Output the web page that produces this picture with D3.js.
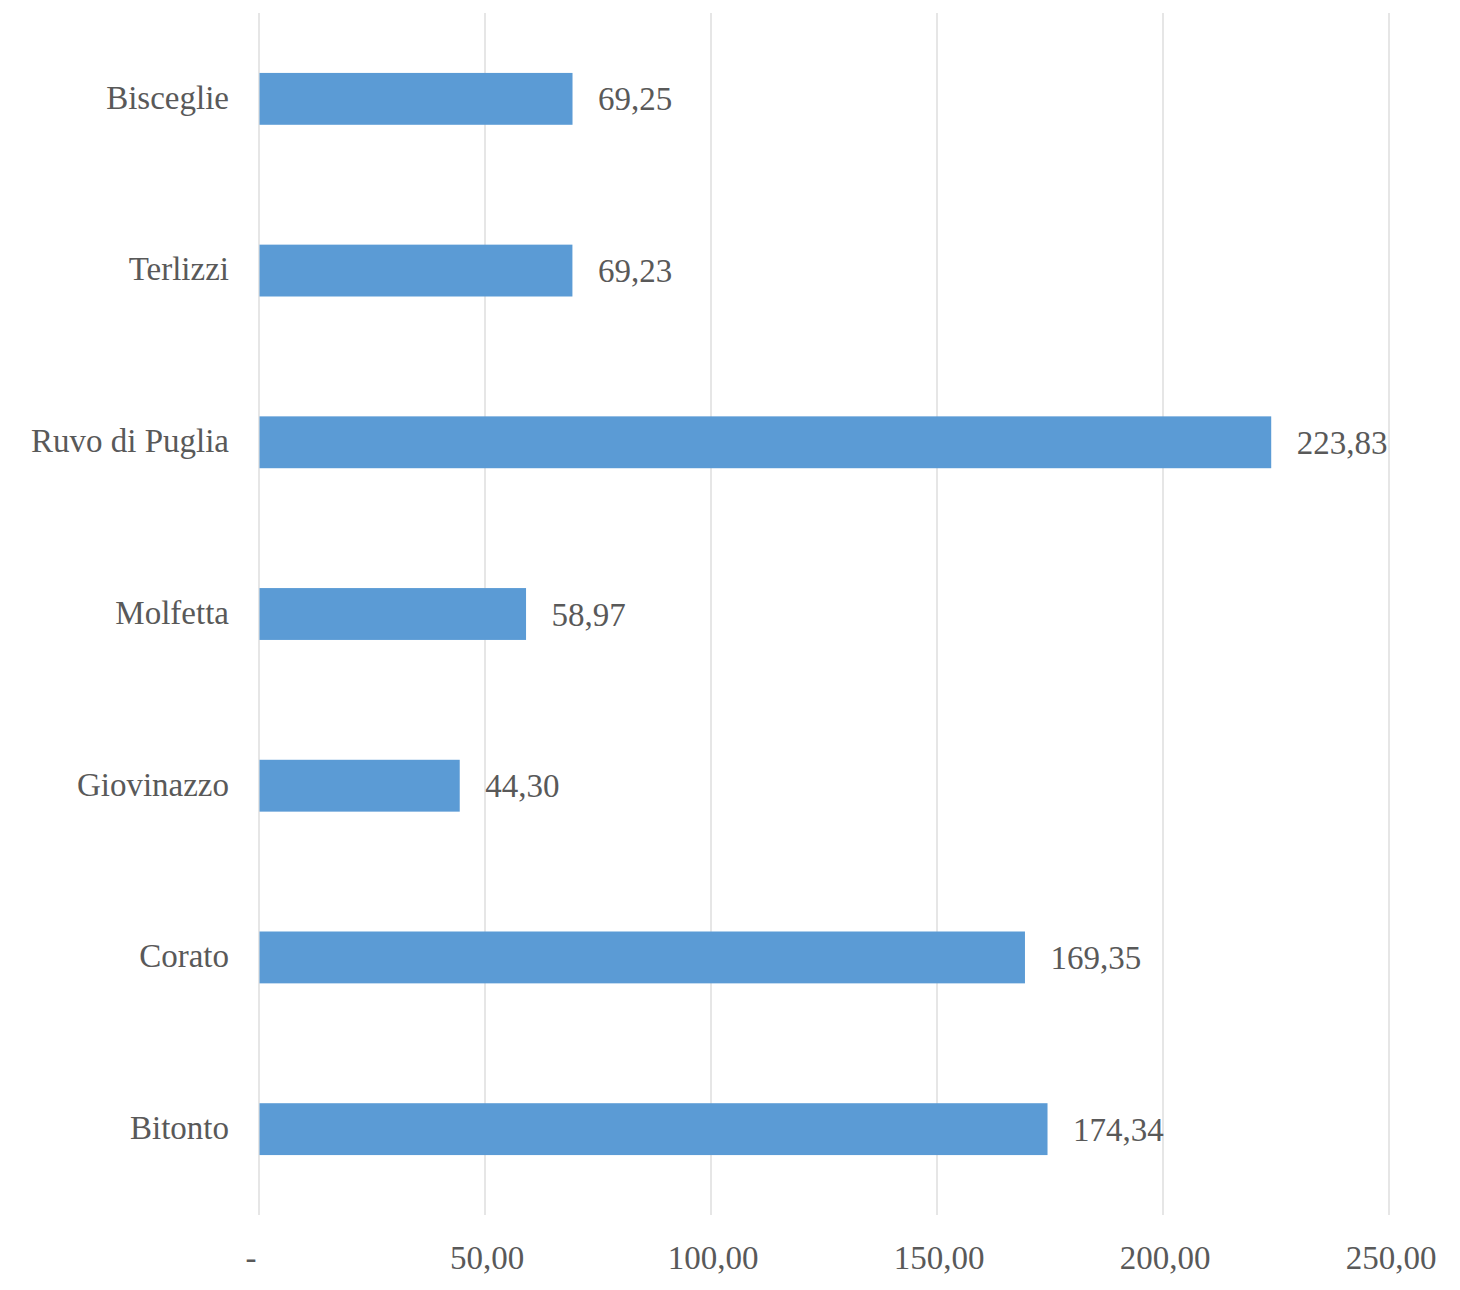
<!DOCTYPE html>
<html>
<head>
<meta charset="utf-8">
<script src="https://cdn.jsdelivr.net/npm/d3@7"></script>
<style>
  html, body { margin: 0; padding: 0; background: #fff; }
  svg text { font-family: "Liberation Serif", "DejaVu Serif", serif; fill: #595959; }
</style>
</head>
<body>
<svg id="chart" width="1460" height="1290"></svg>
<script>
const categories = ["Bisceglie", "Terlizzi", "Ruvo di Puglia", "Molfetta", "Giovinazzo", "Corato", "Bitonto"];
const values = [69.25, 69.23, 223.83, 58.97, 44.30, 169.35, 174.34];
const tickValues = [0, 50, 100, 150, 200, 250];
const tickLabels = ["-", "50,00", "100,00", "150,00", "200,00", "250,00"];

const svg = d3.select("#chart");
const margin = { left: 259, right: 71, top: 13, bottom: 75 };
const W = 1460, H = 1290;
const FS = 33;

const x = d3.scaleLinear().domain([0, 250]).range([margin.left, W - margin.right]);
const y = d3.scaleBand().domain(categories).range([margin.top, H - margin.bottom]).paddingInner(0.698).paddingOuter(0.349);

const fmt = v => v.toFixed(2).replace(".", ",");

// gridlines
svg.append("g").selectAll("line").data(tickValues).join("line")
  .attr("x1", d => x(d)).attr("x2", d => x(d))
  .attr("y1", margin.top).attr("y2", H - margin.bottom)
  .attr("stroke", "#d9d9d9").attr("stroke-width", 1.3);

// bars
svg.append("g").selectAll("rect").data(values).join("rect")
  .attr("x", x(0) + 0.5)
  .attr("y", (d, i) => y(categories[i]))
  .attr("width", d => x(d) - x(0))
  .attr("height", y.bandwidth())
  .attr("fill", "#5B9BD5");

// value labels
svg.append("g").selectAll("text").data(values).join("text")
  .attr("x", d => x(d) + 26)
  .attr("y", (d, i) => y(categories[i]) + y.bandwidth() / 2)
  .attr("dy", "0.35em")
  .attr("font-size", FS)
  .text(d => fmt(d));

// category labels
svg.append("g").selectAll("text").data(categories).join("text")
  .attr("x", margin.left - 30)
  .attr("y", d => y(d) + y.bandwidth() / 2)
  .attr("dy", "0.3em")
  .attr("text-anchor", "end")
  .attr("font-size", FS)
  .text(d => d);

// x tick labels
svg.append("g").selectAll("text").data(tickValues).join("text")
  .attr("x", (d, i) => x(d) + (d === 0 ? -8 : 2))
  .attr("y", 1257)
  .attr("dy", "0.35em")
  .attr("text-anchor", "middle")
  .attr("font-size", FS)
  .text((d, i) => tickLabels[i]);
</script>
</body>
</html>
